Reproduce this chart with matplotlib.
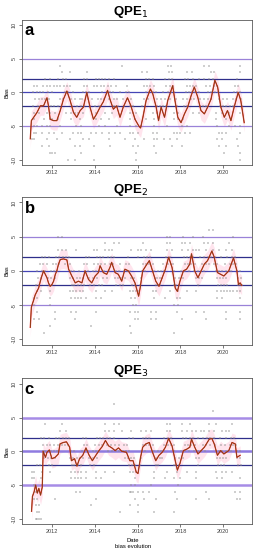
import matplotlib.pyplot as plt
import numpy as np

plt.rcParams['font.family'] = ['Liberation Sans', 'DejaVu Sans']

# smoothed bias (decimal year, bias)
years_a = [2010.99, 2011.04, 2011.15, 2011.30, 2011.46, 2011.61, 2011.77, 2011.84, 2011.92, 2012.08,
           2012.23, 2012.39, 2012.54, 2012.70, 2012.85, 2013.01, 2013.16, 2013.32, 2013.47, 2013.63,
           2013.78, 2013.94, 2014.09, 2014.25, 2014.40, 2014.60, 2014.71, 2014.87, 2015.02, 2015.18,
           2015.33, 2015.53, 2015.69, 2015.88, 2016.06, 2016.14, 2016.25, 2016.40, 2016.60, 2016.71,
           2016.87, 2016.98, 2017.10, 2017.26, 2017.41, 2017.64, 2017.72, 2017.88, 2018.03, 2018.19,
           2018.34, 2018.50, 2018.65, 2018.81, 2018.96, 2019.12, 2019.27, 2019.43, 2019.61, 2019.74,
           2019.89, 2020.05, 2020.20, 2020.36, 2020.51, 2020.70, 2020.82, 2020.98]
bias_a = [-6.9, -4.2, -3.7, -3.0, -2.0, -2.0, -0.8, -2.0, -4.0, -4.2,
          -4.2, -2.7, -1.0, 0.2, -1.2, -3.0, -3.7, -2.7, -2.2, 0.0,
          -2.2, -4.0, -3.2, -2.2, -1.4, 0.3, -1.0, -2.5, -2.0, -3.7,
          -2.2, -0.8, -2.0, -4.0, -5.0, -5.3, -3.7, -1.2, 0.5, -0.2,
          -2.2, -4.2, -2.2, -3.7, -1.2, 1.0, -0.7, -3.7, -4.5, -3.2,
          -2.2, -0.5, 0.8, -0.7, -2.7, -3.2, -2.2, -1.0, 1.8, 0.8,
          -2.2, -3.7, -2.7, -4.2, -2.2, 0.0, -1.2, -4.5]

years_b = [2010.99, 2011.04, 2011.07, 2011.15, 2011.22, 2011.30, 2011.38, 2011.46, 2011.53, 2011.61,
           2011.69, 2011.77, 2011.84, 2011.92, 2012.00, 2012.08, 2012.16, 2012.23, 2012.31, 2012.39,
           2012.54, 2012.70, 2012.78, 2012.93, 2013.09, 2013.24, 2013.40, 2013.55, 2013.71, 2013.86,
           2014.02, 2014.17, 2014.25, 2014.40, 2014.56, 2014.71, 2014.79, 2014.95, 2015.10, 2015.26,
           2015.41, 2015.57, 2015.72, 2015.88, 2016.05, 2016.12, 2016.24, 2016.39, 2016.55, 2016.70,
           2016.85, 2017.00, 2017.15, 2017.30, 2017.45, 2017.61, 2017.76, 2017.86, 2017.98, 2018.14,
           2018.29, 2018.44, 2018.52, 2018.67, 2018.82, 2018.97, 2019.12, 2019.27, 2019.47, 2019.58,
           2019.73, 2019.88, 2020.03, 2020.26, 2020.48, 2020.64, 2020.71, 2020.79, 2020.86]
bias_b = [-8.25, -5.3, -5.0, -4.25, -3.5, -3.0, -2.5, -1.5, -0.75, 0.0,
          -0.5, -1.0, -1.75, -2.25, -2.0, -1.5, -0.5, 0.0, 1.0, 1.65,
          1.75, 1.6, 0.25, -0.75, -1.75, -1.5, -1.75, 0.0, -1.25, -1.75,
          -0.75, -0.25, 0.75, -0.25, -0.5, 0.5, 1.25, -0.25, -0.5, -1.5,
          0.25, 0.0, -0.75, -1.75, -3.7, -2.5, 0.0, 0.75, 1.5, 0.0,
          -1.5, -2.25, -1.0, 0.25, 2.0, 0.5, -2.5, -3.0, -1.5, 0.0,
          0.25, 1.0, 2.5, 0.0, -1.0, 0.0, 1.0, 1.5, 2.9, 2.0,
          -0.25, -0.5, -0.75, 0.0, 1.9, 0.0, -2.0, -1.75, -2.1]

years_c = [2011.05, 2011.09, 2011.17, 2011.24, 2011.32, 2011.39, 2011.47, 2011.55, 2011.59, 2011.70,
           2011.77, 2011.88, 2012.00, 2012.15, 2012.30, 2012.38, 2012.53, 2012.68, 2012.83, 2012.91,
           2013.06, 2013.17, 2013.29, 2013.44, 2013.59, 2013.74, 2013.89, 2014.05, 2014.20, 2014.35,
           2014.50, 2014.65, 2014.80, 2014.95, 2015.11, 2015.26, 2015.48, 2015.64, 2015.79, 2015.94,
           2016.02, 2016.14, 2016.24, 2016.39, 2016.55, 2016.70, 2016.85, 2017.00, 2017.15, 2017.30,
           2017.45, 2017.61, 2017.76, 2017.86, 2017.98, 2018.14, 2018.29, 2018.44, 2018.52, 2018.67,
           2018.82, 2018.97, 2019.12, 2019.35, 2019.47, 2019.58, 2019.73, 2019.88, 2020.03, 2020.26,
           2020.41, 2020.56, 2020.64, 2020.79]
bias_c = [-8.9, -6.7, -6.0, -5.0, -6.2, -5.5, -6.5, -5.3, 0.0, -0.9,
          -0.15, 0.2, -1.1, -0.9, -0.4, 1.1, 1.3, 1.4, 0.6, -1.4,
          -1.1, -2.2, -1.1, -0.6, 0.5, -0.6, -1.4, -0.6, 0.1, 0.7,
          1.6, 0.8, 0.5, 0.1, 0.5, 0.0, -0.15, -1.4, -1.4, -3.1,
          -3.3, -0.9, 0.6, 1.1, 1.3, -0.15, -1.4, -0.6, -0.15, 0.6,
          1.9, 0.8, -1.4, -2.8, -1.8, 0.1, 0.3, 0.6, 1.8, 0.6,
          -0.4, 0.1, 0.6, 1.8, 1.9, 1.1, -0.6, 0.1, -0.4, 0.1,
          1.3, 1.1, -0.9, -0.6]

# raw bias points, per integer level: list of decimal years
dots_a = {
    4: [2012.38, 2015.29, 2017.41, 2017.56, 2019.12, 2019.35, 2020.79],
    3: [2012.45, 2012.86, 2013.62, 2016.20, 2016.42, 2017.45, 2017.61, 2018.29, 2018.52, 2019.42,
        2019.58, 2020.79],
    2: [2011.70, 2011.92, 2012.30, 2012.53, 2012.68, 2013.52, 2013.62, 2014.05, 2014.20, 2014.35,
        2014.50, 2014.65, 2014.88, 2016.39, 2016.55, 2016.70, 2017.30, 2017.45, 2017.61, 2018.21,
        2018.36, 2018.59, 2018.89, 2019.12, 2019.35, 2019.50, 2020.64],
    1: [2011.17, 2011.30, 2011.60, 2011.75, 2011.90, 2012.10, 2012.25, 2012.40, 2012.55, 2012.70,
        2012.85, 2013.50, 2013.65, 2013.95, 2014.10, 2014.30, 2014.45, 2014.60, 2014.75, 2015.00,
        2015.50, 2016.30, 2016.45, 2016.60, 2016.75, 2017.35, 2017.50, 2017.65, 2018.30, 2018.45,
        2018.60, 2018.75, 2019.20, 2019.40, 2019.55, 2019.70, 2020.55, 2020.70],
    0: [2011.10, 2011.30, 2011.45, 2011.60, 2011.80, 2012.00, 2012.60, 2012.75, 2013.00, 2013.45,
        2013.60, 2013.75, 2014.35, 2014.55, 2014.70, 2014.85, 2015.20, 2015.45, 2015.60, 2016.40,
        2016.55, 2016.70, 2016.85, 2017.20, 2017.40, 2017.55, 2017.70, 2018.25, 2018.40, 2018.55,
        2018.70, 2018.85, 2019.30, 2019.45, 2019.60, 2019.75, 2020.50, 2020.65, 2020.80],
    -1: [2011.20, 2011.40, 2011.55, 2011.70, 2011.85, 2012.40, 2012.50, 2012.90, 2013.10, 2013.30,
         2013.40, 2013.70, 2013.85, 2014.15, 2014.30, 2014.45, 2014.65, 2014.90, 2015.05, 2015.30,
         2015.50, 2015.70, 2016.30, 2016.50, 2016.90, 2017.10, 2017.30, 2017.50, 2017.80, 2018.10,
         2018.30, 2018.50, 2018.65, 2018.90, 2019.10, 2019.30, 2019.45, 2019.80, 2020.00, 2020.20,
         2020.45, 2020.60, 2020.85],
    -2: [2011.10, 2011.35, 2011.50, 2011.95, 2012.10, 2012.30, 2012.95, 2013.15, 2013.35, 2013.50,
         2013.80, 2014.00, 2014.20, 2014.90, 2015.10, 2015.35, 2015.65, 2015.80, 2016.20, 2016.90,
         2017.05, 2017.20, 2017.35, 2017.85, 2018.15, 2018.30, 2018.90, 2019.05, 2019.20, 2019.85,
         2020.00, 2020.15, 2020.30, 2020.45, 2020.90],
    -3: [2011.17, 2011.39, 2011.77, 2011.92, 2012.15, 2012.68, 2012.91, 2013.06, 2013.21, 2013.44,
         2014.05, 2014.50, 2014.80, 2015.64, 2015.79, 2015.94, 2016.70, 2016.92, 2017.68, 2017.91,
         2018.59, 2018.89, 2019.65, 2019.95, 2020.26, 2020.79],
    -4: [2011.17, 2011.62, 2011.92, 2012.00, 2012.30, 2012.91, 2013.29, 2014.05, 2014.27, 2014.65,
         2015.64, 2015.86, 2016.39, 2016.77, 2017.68, 2017.91, 2018.14, 2019.65, 2020.11],
    -5: [2011.17, 2011.32, 2011.55, 2011.77, 2011.92, 2012.38, 2013.14, 2013.36, 2014.20, 2014.50,
         2015.03, 2015.64, 2015.94, 2016.17, 2016.77, 2017.38, 2018.06, 2018.29, 2019.73, 2020.26,
         2020.56, 2020.79],
    -6: [2011.17, 2011.24, 2011.55, 2011.85, 2012.08, 2012.45, 2012.98, 2013.21, 2013.36, 2013.82,
         2014.05, 2014.35, 2014.65, 2014.95, 2015.18, 2015.64, 2015.79, 2016.02, 2016.70, 2016.92,
         2017.68, 2017.83, 2017.98, 2018.21, 2018.44, 2019.80, 2019.95, 2020.11, 2020.79],
    -7: [2011.09, 2011.17, 2011.77, 2012.23, 2012.83, 2013.44, 2013.74, 2014.65, 2015.41, 2015.86,
         2016.32, 2016.77, 2016.92, 2017.23, 2017.53, 2017.83, 2019.73, 2019.95, 2020.64],
    -8: [2011.55, 2011.85, 2013.06, 2013.29, 2013.97, 2014.73, 2015.79, 2016.02, 2016.77, 2017.61,
         2018.06, 2019.80, 2020.11, 2020.71],
    -9: [2011.92, 2012.00, 2012.15, 2013.36, 2015.94, 2016.85, 2020.03, 2020.79],
    -10: [2012.76, 2013.06, 2013.97, 2015.94, 2020.79],
}

dots_b = {
    6: [2019.35, 2019.50],
    5: [2012.30, 2012.45, 2017.38, 2017.53, 2018.14, 2018.59, 2019.05, 2020.48],
    4: [2014.50, 2014.88, 2015.11, 2016.24, 2017.38, 2017.53, 2018.06, 2018.21, 2018.44, 2019.12,
        2019.27, 2019.50, 2020.26],
    3: [2012.30, 2012.45, 2012.68, 2013.14, 2013.97, 2014.12, 2014.50, 2014.65, 2014.80, 2015.71,
        2016.02, 2016.17, 2016.39, 2016.62, 2017.38, 2017.61, 2018.06, 2018.36, 2018.59, 2018.74,
        2018.89, 2019.20, 2019.50, 2019.80, 2020.11, 2020.41],
    2: [2011.55, 2011.70, 2011.85, 2012.20, 2012.35, 2012.50, 2012.65, 2012.80, 2013.60, 2013.75,
        2014.10, 2014.25, 2014.40, 2014.60, 2014.75, 2014.90, 2015.55, 2016.00, 2016.30, 2016.45,
        2016.60, 2017.35, 2017.50, 2018.15, 2018.30, 2018.45, 2018.60, 2018.90, 2019.10, 2019.30,
        2019.45, 2019.60, 2019.90, 2020.20, 2020.40, 2020.55],
    1: [2011.45, 2011.60, 2011.75, 2012.05, 2012.20, 2012.35, 2012.60, 2012.85, 2013.50, 2013.65,
        2013.95, 2014.15, 2014.30, 2014.50, 2014.70, 2014.85, 2015.20, 2015.45, 2015.60, 2016.25,
        2016.40, 2016.55, 2016.70, 2017.20, 2017.40, 2017.55, 2017.65, 2018.20, 2018.35, 2018.50,
        2018.70, 2019.00, 2019.20, 2019.35, 2019.55, 2019.70, 2020.10, 2020.30, 2020.45, 2020.60],
    0: [2011.30, 2011.55, 2011.70, 2011.95, 2012.10, 2012.25, 2012.90, 2013.05, 2013.25, 2013.55,
        2013.70, 2013.90, 2014.05, 2014.20, 2014.45, 2014.65, 2015.00, 2015.15, 2015.35, 2015.50,
        2015.65, 2016.20, 2016.35, 2016.75, 2016.95, 2017.10, 2017.25, 2017.70, 2018.05, 2018.20,
        2018.40, 2018.65, 2018.80, 2018.95, 2019.10, 2019.65, 2019.80, 2019.95, 2020.15, 2020.35,
        2020.65, 2020.80],
    -1: [2011.35, 2011.50, 2011.80, 2011.95, 2012.15, 2012.85, 2013.00, 2013.15, 2013.30, 2013.45,
         2013.75, 2013.90, 2014.10, 2014.40, 2014.55, 2014.95, 2015.10, 2015.25, 2015.40, 2015.70,
         2015.85, 2016.15, 2016.80, 2016.90, 2017.05, 2017.15, 2017.75, 2017.95, 2018.10, 2018.75,
         2018.85, 2019.00, 2019.70, 2019.85, 2020.00, 2020.15, 2020.70, 2020.85],
    -2: [2011.25, 2011.40, 2011.85, 2012.00, 2012.95, 2013.05, 2013.20, 2013.35, 2013.50, 2013.80,
         2013.95, 2014.20, 2014.35, 2015.00, 2015.20, 2015.30, 2015.75, 2015.90, 2016.10, 2016.85,
         2016.95, 2017.05, 2017.70, 2017.80, 2017.95, 2018.80, 2019.75, 2019.90, 2020.05, 2020.20,
         2020.70, 2020.80, 2020.90],
    -3: [2011.32, 2011.47, 2011.92, 2012.83, 2012.98, 2013.14, 2013.29, 2013.44, 2014.05, 2014.50,
         2014.80, 2015.64, 2015.79, 2015.94, 2016.02, 2016.70, 2016.85, 2017.53, 2017.91, 2018.29,
         2018.74, 2019.73, 2019.88, 2020.03, 2020.18, 2020.33, 2020.48, 2020.64, 2020.79],
    -4: [2011.17, 2011.32, 2011.92, 2012.91, 2013.06, 2013.21, 2013.36, 2013.59, 2014.05, 2014.27,
         2015.71, 2015.86, 2016.77, 2017.30, 2017.83, 2017.98, 2019.73, 2019.95, 2020.79],
    -5: [2011.17, 2011.92, 2015.79, 2015.94, 2017.68, 2017.91],
    -6: [2011.32, 2012.15, 2012.91, 2013.14, 2014.05, 2015.64, 2015.86, 2016.02, 2016.62, 2016.85,
         2017.83, 2018.74, 2019.12, 2020.11, 2020.79],
    -7: [2011.17, 2011.39, 2012.15, 2013.06, 2015.86, 2016.02, 2016.62, 2016.85, 2018.06, 2019.20,
         2020.11, 2020.79],
    -8: [2011.92, 2013.82, 2015.64],
    -9: [2011.62, 2015.71, 2017.68],
}

dots_c = {
    7: [2014.88],
    6: [2019.50],
    4: [2011.70, 2012.45, 2014.50, 2014.88, 2015.11, 2017.38, 2017.53, 2018.06, 2018.44, 2019.35,
        2019.65, 2020.41],
    3: [2012.38, 2012.68, 2014.50, 2014.65, 2014.88, 2015.26, 2015.71, 2016.17, 2016.39, 2016.62,
        2017.38, 2017.53, 2018.06, 2018.29, 2018.52, 2018.74, 2018.97, 2019.12, 2019.35, 2019.58,
        2019.95, 2020.11, 2020.26],
    2: [2011.50, 2011.65, 2011.85, 2012.20, 2012.35, 2012.50, 2012.65, 2012.80, 2013.45, 2013.60,
        2014.10, 2014.25, 2014.40, 2014.55, 2014.70, 2014.90, 2015.60, 2015.80, 2016.25, 2016.40,
        2016.55, 2017.25, 2017.40, 2017.55, 2018.10, 2018.25, 2018.45, 2018.60, 2018.80, 2019.05,
        2019.25, 2019.40, 2019.55, 2019.85, 2020.15, 2020.35, 2020.50],
    1: [2011.60, 2011.75, 2011.90, 2012.10, 2012.30, 2012.45, 2012.60, 2012.75, 2013.50, 2013.65,
        2014.00, 2014.20, 2014.35, 2014.55, 2014.75, 2014.95, 2015.15, 2015.35, 2015.50, 2016.25,
        2016.40, 2016.55, 2016.70, 2017.25, 2017.40, 2017.55, 2017.70, 2018.20, 2018.35, 2018.50,
        2018.70, 2019.05, 2019.20, 2019.40, 2019.60, 2019.90, 2020.10, 2020.30, 2020.45, 2020.60],
    0: [2011.60, 2011.70, 2011.95, 2012.10, 2012.25, 2012.90, 2013.05, 2013.40, 2013.55, 2013.70,
        2013.90, 2014.05, 2014.20, 2014.60, 2014.80, 2015.00, 2015.15, 2015.30, 2015.45, 2015.60,
        2016.20, 2016.35, 2016.75, 2016.95, 2017.10, 2017.25, 2017.70, 2018.05, 2018.20, 2018.40,
        2018.65, 2018.80, 2018.95, 2019.15, 2019.65, 2019.80, 2019.95, 2020.15, 2020.35, 2020.65,
        2020.80],
    -1: [2011.65, 2011.80, 2011.95, 2012.15, 2012.85, 2013.00, 2013.15, 2013.30, 2013.45, 2013.75,
         2013.90, 2014.10, 2015.40, 2015.55, 2015.70, 2015.85, 2016.15, 2016.80, 2016.90, 2017.05,
         2017.15, 2017.75, 2017.95, 2018.10, 2018.75, 2018.85, 2019.70, 2019.85, 2020.00, 2020.15,
         2020.65, 2020.80],
    -2: [2011.30, 2011.45, 2011.85, 2012.00, 2012.95, 2013.05, 2013.20, 2013.35, 2013.80, 2013.95,
         2015.60, 2015.75, 2015.90, 2016.10, 2016.85, 2016.95, 2017.70, 2017.80, 2017.95, 2018.80,
         2019.75, 2019.90, 2020.05, 2020.70, 2020.85],
    -3: [2011.09, 2011.17, 2011.55, 2011.92, 2012.91, 2013.06, 2013.21, 2013.36, 2013.59, 2014.05,
         2014.50, 2014.88, 2015.64, 2015.79, 2015.94, 2016.77, 2017.38, 2017.83, 2018.29, 2018.74,
         2019.65, 2019.95, 2020.11, 2020.41],
    -4: [2011.09, 2011.17, 2011.47, 2012.91, 2013.06, 2013.21, 2013.36, 2013.59, 2014.05, 2014.27,
         2015.86, 2016.77, 2017.30, 2017.68, 2017.98, 2018.74, 2019.73, 2019.95, 2020.79],
    -5: [2011.17, 2011.55, 2015.71, 2015.86, 2016.62, 2017.91],
    -6: [2011.24, 2011.32, 2013.14, 2013.29, 2015.64, 2015.71, 2015.79, 2016.02, 2016.24, 2016.55,
         2017.76, 2019.20, 2020.56, 2020.79],
    -7: [2011.17, 2011.32, 2012.15, 2014.05, 2015.86, 2016.32, 2016.85, 2017.83, 2018.74, 2019.35,
         2020.64, 2020.79],
    -8: [2011.24, 2011.39, 2013.82, 2015.64, 2016.02],
    -9: [2011.32, 2011.39, 2015.18, 2016.02, 2016.77, 2017.68],
    -10: [2011.24, 2011.32, 2011.39, 2011.47],
}

titles = ['QPE', 'QPE', 'QPE']
subs = ['1', '2', '3']
letters = ['a', 'b', 'c']
year_ticks = [2012, 2014, 2016, 2018, 2020]
bias_ticks = [-10, -5, 0, 5, 10]

fig = plt.figure(figsize=(2.61, 5.5), dpi=100)

# axes rectangles in figure fraction (left, bottom, width, height)
rects = [(0.084, 0.700, 0.882, 0.264),
         (0.084, 0.373, 0.882, 0.269),
         (0.084, 0.047, 0.882, 0.265)]
title_y = [0.978, 0.654, 0.326]

panels = [(years_a, bias_a, dots_a), (years_b, bias_b, dots_b), (years_c, bias_c, dots_c)]

for i, (yrs, bias, dots) in enumerate(panels):
    ax = fig.add_axes(rects[i])
    yrs = np.array(yrs)
    bias = np.array(bias)
    assert len(yrs) == len(bias)

    # pink band behind the smoothed bias
    ax.fill_between(yrs, bias - 1.4, bias + 1.4, color='#ffa6c6', alpha=0.3, lw=0, zorder=1)

    # reference lines
    if i == 2:
        ax.axhline(5, color='#a68ce6', lw=1.8, zorder=2)
        ax.axhline(-5, color='#a68ce6', lw=1.8, zorder=2)
        ax.axhline(0, color='#8f7be0', lw=1.8, zorder=2)
    else:
        ax.axhline(5, color='#9a82d8', lw=0.9, zorder=2)
        ax.axhline(-5, color='#9a82d8', lw=0.9, zorder=2)
        ax.axhline(0, color='#4545b5', lw=0.9, zorder=2)
    ax.axhline(2, color='#2e2e8a', lw=0.9, zorder=2)
    ax.axhline(-2, color='#2e2e8a', lw=0.9, zorder=2)

    # raw points
    for lev, ys in dots.items():
        ax.plot(ys, [lev] * len(ys), ls='none', marker='+', ms=1.5, mew=0.3,
                color='0.55', zorder=3)

    # smoothed bias
    ax.plot(yrs, bias, color='#e8261c', lw=0.9, zorder=4)
    ax.plot(yrs, bias, color='#6b4a1a', lw=0.45, zorder=5)

    ax.set_xlim(2010.6, 2021.35)
    ax.set_ylim(-10.8, 10.8)
    ax.set_xticks(year_ticks)
    ax.set_xticklabels([str(y) for y in year_ticks])
    ax.set_yticks(bias_ticks)
    ax.set_yticklabels([str(b) for b in bias_ticks], rotation=90, va='center')
    ax.tick_params(labelsize=4, length=2, width=0.5, colors='0.25', pad=1.5)
    for sp in ax.spines.values():
        sp.set_color('0.35')
        sp.set_linewidth(0.6)
    ax.set_ylabel('Bias', fontsize=4, labelpad=2)

    ax.text(0.012, 0.975, letters[i], transform=ax.transAxes, fontsize=12,
            fontweight='bold', va='top', ha='left', zorder=6)

    fig.text(0.50, title_y[i], titles[i] + '$_{' + subs[i] + '}$', fontsize=9.5,
             fontweight='bold', ha='center', va='center')

fig.text(0.51, 0.018, 'Date', fontsize=4.2, ha='center', va='center')
fig.text(0.51, 0.007, 'bias evolution', fontsize=4.2, ha='center', va='center')

fig.savefig('out.png', dpi=100)
